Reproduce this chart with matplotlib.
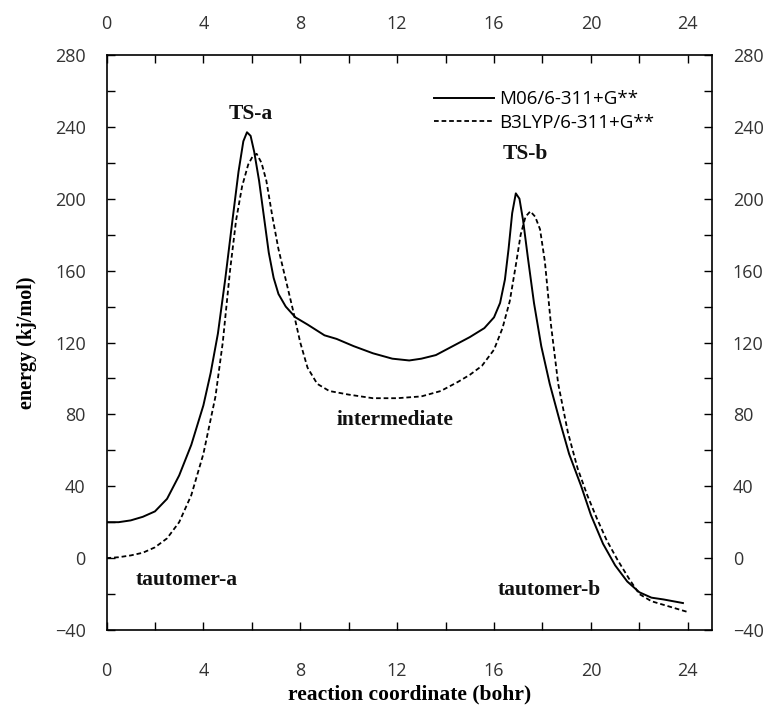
import matplotlib
matplotlib.use("Agg")
import matplotlib.pyplot as plt
import matplotlib.transforms as mtransforms
from matplotlib.ticker import MultipleLocator

# M06/6-311+G** (solid)
m06_x = [0.0, 0.5, 1.0, 1.5, 2.0, 2.5, 3.0, 3.5, 4.0, 4.3, 4.6, 4.9, 5.2, 5.45, 5.65, 5.8, 5.95, 6.1, 6.3, 6.5, 6.7, 6.9, 7.1, 7.4, 7.8, 8.3, 9.0, 9.5, 10.2, 11.0, 11.8, 12.5, 13.0, 13.6, 14.3, 15.0, 15.6, 16.0, 16.25, 16.45, 16.6, 16.75, 16.9, 17.05, 17.2, 17.4, 17.65, 17.95, 18.3, 18.7, 19.1, 19.6, 20.0, 20.5, 21.0, 21.5, 22.0, 22.5, 23.0, 23.8]
m06_y = [20, 20, 21, 23, 26, 33, 46, 63, 85, 103, 125, 155, 188, 215, 232, 237, 235, 226, 210, 190, 170, 156, 147, 140, 134, 130, 124, 122, 118, 114, 111, 110, 111, 113, 118, 123, 128, 134, 142, 155, 172, 192, 203, 200, 188, 167, 142, 118, 97, 77, 58, 40, 24, 8, -4, -13, -19, -22, -23, -25]

# B3LYP/6-311+G** (dashed)
b3_x = [0.0, 0.5, 1.0, 1.5, 2.0, 2.5, 3.0, 3.5, 4.0, 4.5, 4.8, 5.1, 5.35, 5.6, 5.85, 6.05, 6.2, 6.4, 6.6, 6.85, 7.1, 7.4, 7.7, 8.0, 8.3, 8.7, 9.2, 10.0, 11.0, 12.0, 13.0, 13.8, 14.5, 15.0, 15.5, 16.0, 16.35, 16.65, 16.9, 17.1, 17.3, 17.5, 17.7, 17.9, 18.1, 18.35, 18.65, 19.05, 19.45, 19.85, 20.25, 20.65, 21.1, 21.6, 22.0, 22.5, 23.0, 23.5, 24.0]
b3_y = [0, 0.5, 1.5, 3, 6, 11, 20, 35, 58, 90, 120, 160, 188, 207, 219, 224, 225, 220, 210, 190, 172, 155, 138, 120, 106, 97, 93, 91, 89, 89, 90, 93, 98, 102, 107, 116, 128, 143, 163, 180, 190, 193, 190, 183, 165, 130, 97, 70, 50, 35, 22, 10, -1, -12, -20, -24, -26, -28, -30]

labels = ["M06/6-311+G**", "B3LYP/6-311+G**"]
xticks = [0, 4, 8, 12, 16, 20, 24]
yticks = [-40, 0, 40, 80, 120, 160, 200, 240, 280]

annot_text = ["TS-a", "TS-b", "intermediate", "tautomer-a", "tautomer-b"]
annot_x = [5.95, 17.3, 11.9, 3.3, 18.3]
annot_y = [247, 225, 77, -12, -18]

fig = plt.figure(figsize=(7.71, 7.18), dpi=100)
ax = fig.add_axes([106.5/771, 1-630/718, (712-106.5)/771, (630-55)/718])

ax.plot(m06_x, m06_y, color="black", lw=1.4, label=labels[0])
ax.plot(b3_x, b3_y, color="black", lw=1.3, linestyle=(0, (2.6, 1.6)), label=labels[1])

ax.set_xlim(0, 25)
ax.set_ylim(-40, 280)
ax.set_xticks(xticks)
ax.set_yticks(yticks)
ax.xaxis.set_minor_locator(MultipleLocator(2))
ax.yaxis.set_minor_locator(MultipleLocator(20))
ax.tick_params(which="both", direction="in", length=6, width=1.0, top=True, right=True,
               labeltop=True, labelright=True, labelsize=13, labelcolor="#333333")
ax.tick_params(axis="x", which="major", pad=16)
ax.tick_params(axis="y", which="major", pad=15)
for lab in ax.get_xticklabels() + ax.get_yticklabels():
    lab.set_family("Open Sans")
# bottom tick labels sit a little lower than the top ones are high
shift = mtransforms.ScaledTranslation(0, -10 / 100, fig.dpi_scale_trans)
for t in ax.xaxis.get_major_ticks():
    t.label1.set_transform(t.label1.get_transform() + shift)
for sp in ax.spines.values():
    sp.set_linewidth(1.2)

serif = "Liberation Serif"
ax.set_xlabel("reaction coordinate (bohr)", fontfamily=serif, fontweight="bold", fontsize=15.5, labelpad=3)
ax.set_ylabel("energy (kj/mol)", fontfamily=serif, fontweight="bold", fontsize=14.5, labelpad=13)

for t, x, y in zip(annot_text, annot_x, annot_y):
    ax.text(x, y, t, fontfamily=serif, fontweight="bold", fontsize=15.5, ha="center", va="center", color="#111111")

leg = ax.legend(loc="upper right", bbox_to_anchor=(0.92, 0.955), frameon=False,
                prop={"family": "Open Sans", "size": 13.5}, handlelength=3.2, handletextpad=0.25,
                labelspacing=0.3, borderpad=0)

fig.savefig("out.png", dpi=100)
